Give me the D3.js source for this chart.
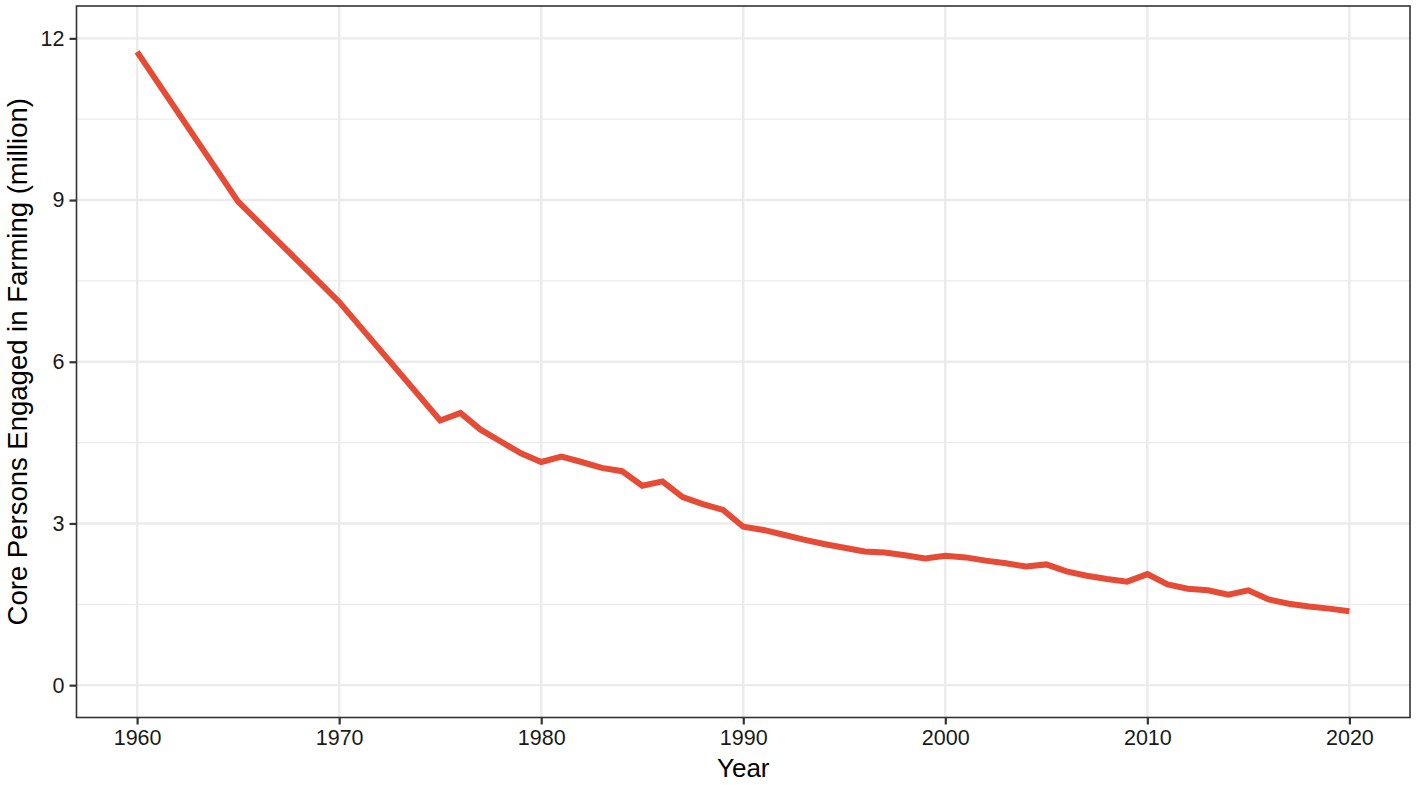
<!DOCTYPE html>
<html>
<head>
<meta charset="utf-8">
<script src="https://cdn.jsdelivr.net/npm/d3@7"></script>
<style>
  html, body { margin: 0; padding: 0; background: #fff; }
  svg { display: block; font-family: "Liberation Sans", Arial, Helvetica, sans-serif; }
</style>
</head>
<body>
<svg id="chart" width="1417" height="785"></svg>
<script>
const years = [1960, 1965, 1970, 1975, 1976, 1977, 1978, 1979, 1980, 1981, 1982, 1983, 1984, 1985, 1986, 1987, 1988, 1989,
  1990, 1991, 1992, 1993, 1994, 1995, 1996, 1997, 1998, 1999, 2000, 2001, 2002, 2003, 2004, 2005, 2006, 2007, 2008, 2009,
  2010, 2011, 2012, 2013, 2014, 2015, 2016, 2017, 2018, 2019, 2020];
const persons = [11.75, 8.97, 7.11, 4.91, 5.05, 4.74, 4.52, 4.30, 4.14, 4.24, 4.14, 4.03, 3.97, 3.70, 3.78, 3.49, 3.36, 3.25,
  2.94, 2.88, 2.79, 2.70, 2.62, 2.55, 2.48, 2.46, 2.41, 2.35, 2.40, 2.37, 2.31, 2.26, 2.20, 2.24, 2.11, 2.03, 1.97, 1.92,
  2.06, 1.87, 1.79, 1.76, 1.68, 1.76, 1.59, 1.51, 1.46, 1.42, 1.37];
const xTicks = [1960, 1970, 1980, 1990, 2000, 2010, 2020];
const yTicks = [0, 3, 6, 9, 12];
const yMinorTicks = [1.5, 4.5, 7.5, 10.5];
const xTitle = "Year";
const yTitle = "Core Persons Engaged in Farming (million)";

const svg = d3.select("#chart");
const pLeft = 76.5, pRight = 1410, pTop = 6, pBottom = 717.5;

const x = d3.scaleLinear().domain([1957, 2023]).range([pLeft, pRight]);
const y = d3.scaleLinear().domain([-0.6, 12.6]).range([pBottom, pTop]);

// minor grid (y)
svg.append("g").selectAll("line").data(yMinorTicks).join("line")
  .attr("x1", pLeft).attr("x2", pRight)
  .attr("y1", d => y(d)).attr("y2", d => y(d))
  .attr("stroke", "#EBEBEB").attr("stroke-width", 1.2);
// major grid
svg.append("g").selectAll("line").data(yTicks).join("line")
  .attr("x1", pLeft).attr("x2", pRight)
  .attr("y1", d => y(d)).attr("y2", d => y(d))
  .attr("stroke", "#EBEBEB").attr("stroke-width", 2.4);
svg.append("g").selectAll("line").data(xTicks).join("line")
  .attr("y1", pTop).attr("y2", pBottom)
  .attr("x1", d => x(d)).attr("x2", d => x(d))
  .attr("stroke", "#EBEBEB").attr("stroke-width", 2.4);

// line
const line = d3.line().x((d, i) => x(years[i])).y(d => y(d));
svg.append("path").datum(persons)
  .attr("d", line)
  .attr("fill", "none")
  .attr("stroke", "#E64B35")
  .attr("stroke-width", 6)
  .attr("stroke-linejoin", "miter")
  .attr("stroke-linecap", "butt");

// axes
const xAxis = d3.axisBottom(x).tickValues(xTicks).tickFormat(d3.format("d")).tickSize(7).tickPadding(5);
const yAxis = d3.axisLeft(y).tickValues(yTicks).tickFormat(d3.format("d")).tickSize(7).tickPadding(5);

const gx = svg.append("g").attr("transform", `translate(0,${pBottom})`).call(xAxis);
const gy = svg.append("g").attr("transform", `translate(${pLeft},0)`).call(yAxis);
[gx, gy].forEach(g => {
  g.select(".domain").remove();
  g.selectAll(".tick line").attr("stroke", "#333").attr("stroke-width", 2.2);
  g.selectAll(".tick text").attr("fill", "#1a1a1a").style("font-size", "21.5px")
    .style("font-family", '"Liberation Sans", Arial, Helvetica, sans-serif');
});

// panel border
svg.append("rect")
  .attr("x", pLeft).attr("y", pTop)
  .attr("width", pRight - pLeft).attr("height", pBottom - pTop)
  .attr("fill", "none").attr("stroke", "#333").attr("stroke-width", 1.6);

// titles
svg.append("text")
  .attr("x", (pLeft + pRight) / 2).attr("y", 777)
  .attr("text-anchor", "middle")
  .attr("fill", "#000")
  .style("font-size", "26px")
  .text(xTitle);
svg.append("text")
  .attr("transform", `translate(27,${(pTop + pBottom) / 2}) rotate(-90)`)
  .attr("text-anchor", "middle")
  .attr("fill", "#000")
  .style("font-size", "27.5px")
  .text(yTitle);
</script>
</body>
</html>
